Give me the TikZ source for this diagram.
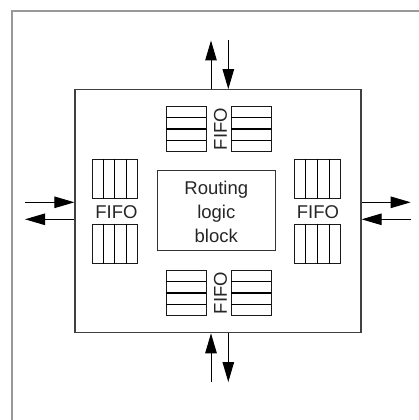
\documentclass[tikz,border=0pt]{standalone}
\usepackage{fontspec}
\setmainfont{Liberation Sans}
\usetikzlibrary{arrows.meta,calc}
\tikzset{
  lbl/.style={font=\fontsize{18.5}{24}\selectfont, text=black!85, inner sep=0pt},
  vfifo/.style={draw=black!90, line width=0.9pt, rectangle, inner sep=0pt, minimum width=45.7pt, minimum height=39.4pt},
  hfifo/.style={draw=black!90, line width=0.9pt, rectangle, inner sep=0pt, minimum width=39.3pt, minimum height=45.4pt},
  div/.style={draw=black, line width=1.2pt},
  arr/.style={draw=black, line width=1pt, -{Triangle[length=20pt,width=11.5pt]}},
}
\begin{document}
\begin{tikzpicture}[x=1pt,y=-1pt]
\useasboundingbox (0,0) rectangle (418,420);
% outer frame
\draw[black!40, line width=1.1pt] (12,425) -- (12,11) -- (425,11);
% main chip
\node[draw=black!75, line width=1.2pt, rectangle, inner sep=0pt, minimum width=286pt, minimum height=243pt] (chip) at (218,211.2) {};
% routing logic
\node[draw=black!80, line width=1pt, rectangle, inner sep=0pt, minimum width=118pt, minimum height=79.7pt] (rl) at (216.3,210.8) {};
\node[lbl, align=center] (rltext) at (216.3,212) {Routing\\logic\\block};
% left/right FIFOs
\node[vfifo] (lt) at (114.8,179) {};
\node[vfifo] (lb) at (114.8,243.7) {};
\node[vfifo] (rt) at (317.5,179) {};
\node[vfifo] (rb) at (317.5,243.7) {};
\foreach \n in {lt,lb,rt,rb}{
  \foreach \f in {0.25,0.5,0.75}{
    \draw[div] ($(\n.north west)!\f!(\n.north east)$) -- ($(\n.south west)!\f!(\n.south east)$);
  }
}
% top/bottom FIFOs
\node[hfifo] (tl) at (186.3,129) {};
\node[hfifo] (tr) at (251.3,129) {};
\node[hfifo] (bl) at (186.3,293) {};
\node[hfifo] (br) at (251.3,293) {};
\foreach \n in {tl,tr,bl,br}{
  \foreach \f in {0.25,0.5,0.75}{
    \draw[div] ($(\n.north west)!\f!(\n.south west)$) -- ($(\n.north east)!\f!(\n.south east)$);
  }
}
% labels
\node[lbl] (ll) at (116.5,211.7) {FIFO};
\node[lbl] (rl2) at (318,211.7) {FIFO};
\node[lbl, rotate=90] (tlab) at (220.5,129) {FIFO};
\node[lbl, rotate=90] (blab) at (220.5,293) {FIFO};
% free ends
\coordinate (nUp) at (211,40.5);
\coordinate (nDn) at (228.3,40.5);
\coordinate (sUp) at (211,382);
\coordinate (sDn) at (228.3,382);
\coordinate (wIn) at (25,202.3);
\coordinate (wOut) at (25,219.3);
\coordinate (eOut) at (410.7,202.3);
\coordinate (eIn) at (410.7,219.3);
% arrows
\draw[arr] (chip.north -| nUp) -- (nUp);
\draw[arr] (nDn) -- (chip.north -| nDn);
\draw[arr] (sUp) -- (chip.south -| sUp);
\draw[arr] (chip.south -| sDn) -- (sDn);
\draw[arr] (wIn) -- (chip.west |- wIn);
\draw[arr] (chip.west |- wOut) -- (wOut);
\draw[arr] (chip.east |- eOut) -- (eOut);
\draw[arr] (eIn) -- (chip.east |- eIn);
\end{tikzpicture}
\end{document}
